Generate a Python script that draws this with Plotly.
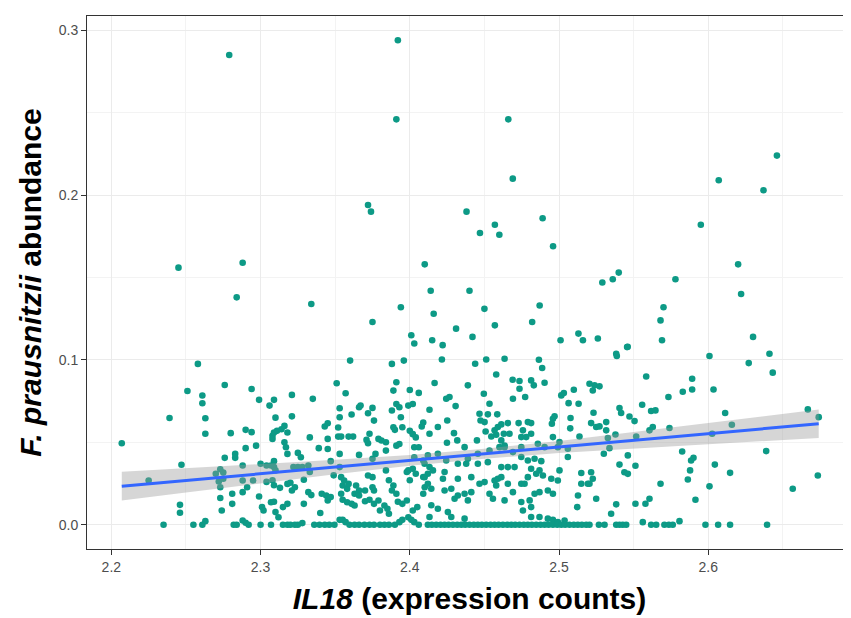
import plotly.graph_objects as go

# ---------------- data ----------------
# (IL18 expression, F. prausnitzii abundance) pairs, grouped by region of the plot
points_upper = [
    (2.279,0.285),(2.392,0.294),(2.391,0.246),(2.466,0.246),(2.646,0.224),(2.469,0.210),(2.607,0.209),
    (2.637,0.203),(2.372,0.194),(2.374,0.190),(2.438,0.190),(2.489,0.186),(2.457,0.182),(2.447,0.177),
    (2.460,0.176),(2.595,0.182),(2.496,0.169),(2.245,0.156),(2.288,0.159),(2.410,0.158),(2.620,0.158),
    (2.284,0.138),(2.334,0.134),(2.540,0.153),(2.536,0.149),(2.529,0.147),(2.578,0.149),(2.622,0.140),
    (2.414,0.142),(2.440,0.142),(2.394,0.132),(2.416,0.128),(2.450,0.131),(2.487,0.133),(2.570,0.132),
    (2.375,0.123),(2.457,0.121),(2.482,0.123),(2.568,0.124),(2.431,0.119),(2.401,0.115),(2.403,0.110),
    (2.415,0.112),(2.422,0.109),(2.442,0.114),(2.501,0.112),(2.513,0.116),(2.516,0.112),(2.526,0.113),
    (2.546,0.108),(2.569,0.112),(2.630,0.114),
]

points_left = [
    (2.207,0.0495),(2.225,0.0269),(2.235,0.0),(2.239,0.0648),(2.246,0.0121),(2.246,0.0073),(2.247,0.0364),
    (2.251,0.0812),(2.255,0.0),(2.258,0.0976),(2.261,0.0784),(2.261,0.0737),(2.263,0.0646),(2.263,0.0552),
    (2.261,0.0),(2.263,0.0022),(2.276,0.0848),(2.280,0.0556),(2.273,0.0337),(2.275,0.0317),(2.272,0.0263),
    (2.273,0.0228),(2.275,0.0279),(2.270,0.0310),(2.276,0.0406),(2.273,0.0162),(2.274,0.0087),(2.281,0.0188),
    (2.281,0.0127),(2.282,0.0),(2.284,0.0),(2.288,0.0026),(2.290,0.0012),(2.292,0.0),(2.283,0.0430),
    (2.283,0.0406),(2.288,0.0360),(2.290,0.0576),(2.294,0.0562),(2.290,0.0465),(2.294,0.0824),(2.288,0.0269),
    (2.295,0.0269),(2.288,0.0198),(2.291,0.0228),(2.297,0.0480),(2.299,0.0758),(2.299,0.0172),(2.300,0.0370),
    (2.304,0.0360),(2.307,0.0360),(2.300,0.0),(2.307,0.0),(2.301,0.0107),(2.302,0.0087),(2.306,0.0723),
    (2.309,0.0758),(2.308,0.0540),(2.309,0.0560),(2.311,0.0570),(2.314,0.0580),(2.316,0.0600),(2.318,0.0560),
    (2.308,0.0520),(2.310,0.0650),(2.316,0.0500),(2.317,0.0470),(2.318,0.0430),(2.309,0.0386),(2.309,0.0350),
    (2.310,0.0330),(2.304,0.0260),(2.309,0.0240),(2.308,0.0270),(2.313,0.0224),(2.318,0.0248),(2.320,0.0255),
    (2.307,0.0137),(2.309,0.0140),(2.310,0.0077),(2.312,0.0046),(2.315,0.0107),(2.318,0.0127),(2.321,0.0788),
    (2.321,0.0658),(2.315,0.0),(2.318,0.0),(2.320,0.0),(2.323,0.0),(2.325,0.0),(2.328,0.0010),(2.325,0.0436),
    (2.327,0.0410),(2.322,0.0350),(2.325,0.0350),(2.328,0.0350),(2.321,0.0208),(2.323,0.0228),(2.329,0.0273),
    (2.329,0.0127),(2.332,0.0360),(2.333,0.0320),(2.332,0.0198),(2.334,0.0180),(2.333,0.0530),
]

points_center_left = [
    (2.335,0.0764),(2.339,0.0465),(2.340,0.0071),(2.341,0.0188),(2.344,0.0178),(2.343,0.0596),(2.345,0.0616),
    (2.345,0.0521),(2.345,0.0460),(2.347,0.0386),(2.345,0.0147),(2.347,0.0168),
    (2.336,0.0),(2.3395,0.0),(2.343,0.0),(2.346,0.0),(2.3495,0.0),(2.353,0.003),(2.355,0.003),(2.357,0.0016),
    (2.3596,0.0),(2.363,0.0),(2.366,0.0),(2.3696,0.0),(2.373,0.0),(2.376,0.0),(2.380,0.0),(2.383,0.0),
    (2.386,0.0),(2.390,0.0),(2.393,0.0016),(2.395,0.003),(2.399,0.0045),(2.401,0.003),(2.403,0.0016),(2.406,0.0),
    (2.351,0.0859),(2.353,0.0707),(2.353,0.0652),(2.352,0.0590),(2.352,0.0535),(2.354,0.0535),(2.353,0.0430),
    (2.353,0.0350),(2.349,0.0300),(2.354,0.0289),(2.356,0.0269),(2.355,0.0238),(2.358,0.0218),(2.359,0.0248),
    (2.354,0.0188),(2.355,0.0152),(2.358,0.0137),(2.361,0.0127),(2.363,0.0117),(2.357,0.0798),(2.360,0.0996),
    (2.359,0.0535),(2.362,0.0535),(2.361,0.0669),(2.364,0.0238),(2.366,0.0208),(2.363,0.0188),(2.366,0.0178),
    (2.370,0.0208),(2.366,0.0424),(2.366,0.0713),(2.367,0.0723),(2.372,0.0677),(2.375,0.0709),(2.373,0.0552),
    (2.371,0.0515),(2.372,0.0495),(2.376,0.0632),(2.375,0.0400),(2.372,0.0299),(2.375,0.0289),(2.375,0.0228),
    (2.376,0.0208),(2.370,0.0143),(2.373,0.0152),(2.376,0.0127),(2.379,0.0147),(2.380,0.0087),(2.383,0.0117),
    (2.385,0.0097),(2.386,0.0067),(2.379,0.0521),(2.381,0.0511),(2.384,0.0501),(2.384,0.0450),(2.377,0.0430),
    (2.388,0.0976),(2.391,0.0865),(2.389,0.0814),(2.396,0.0996),(2.388,0.0693),(2.391,0.0733),(2.393,0.0713),
    (2.389,0.0592),(2.390,0.0576),(2.394,0.0652),(2.395,0.0592),(2.391,0.0480),(2.393,0.0490),(2.384,0.0330),
    (2.386,0.0270),(2.389,0.0238),(2.388,0.0208),(2.391,0.0188),(2.398,0.0320),(2.400,0.0270),(2.399,0.0330),
    (2.402,0.0340),(2.398,0.0147),(2.395,0.0127),(2.392,0.0140),(2.400,0.0818),(2.399,0.0723),(2.402,0.0733),
    (2.400,0.0570),(2.402,0.0550),(2.404,0.0530),(2.403,0.0470),(2.406,0.0470),(2.403,0.0410),(2.409,0.0390),
    (2.404,0.0310),(2.409,0.0290),(2.402,0.0087),(2.405,0.0107),(2.406,0.0800),(2.409,0.0620),(2.408,0.0596),
    (2.410,0.0228),(2.409,0.0188),
]

points_center_right = [
    (2.4215,0.1003),(2.4438,0.0977),(2.4512,0.1003),(2.4635,0.1007),(2.4865,0.1001),(2.4887,0.0951),
    (2.4579,0.0912),(2.4166,0.0860),(2.4389,0.0846),(2.4689,0.0880),(2.4735,0.0872),(2.4735,0.0825),
    (2.4813,0.0876),(2.4831,0.0846),(2.4903,0.0862),(2.4691,0.0765),(2.4773,0.0775),(2.4496,0.0795),
    (2.4244,0.0765),(2.4266,0.0775),(2.4307,0.0720),(2.4132,0.0698),(2.4534,0.0734),(2.4467,0.0674),
    (2.4523,0.0670),(2.4586,0.0670),(2.4474,0.0633),(2.4501,0.0623),(2.4251,0.0633),(2.4188,0.0593),
    (2.4132,0.0552),(2.4296,0.0556),(2.4249,0.0498),(2.4318,0.0512),(2.4367,0.0471),(2.4450,0.0512),
    (2.4508,0.0566),(2.4568,0.0573),(2.4590,0.0593),(2.4613,0.0609),(2.4657,0.0617),(2.4546,0.0536),
    (2.4579,0.0546),(2.4630,0.0552),(2.4613,0.0512),(2.4635,0.0481),(2.4668,0.0552),(2.4729,0.0617),
    (2.4758,0.0573),(2.4791,0.0623),(2.4813,0.0617),(2.4747,0.0532),(2.4780,0.0532),(2.4813,0.0552),
    (2.4959,0.0643),(2.4970,0.0658),(2.4952,0.0613),(2.5015,0.0785),(2.5032,0.0799),(2.5064,0.0738),
    (2.5099,0.0819),(2.5131,0.0734),(2.5077,0.0648),(2.5075,0.0585),(2.5137,0.0536),
    (2.4959,0.0532),(2.5003,0.0502),(2.4992,0.0471),(2.5059,0.0461),(2.4858,0.0492),(2.4903,0.0471),
    (2.4747,0.0471),(2.4691,0.0441),(2.4601,0.0471),(2.4635,0.0471),(2.4456,0.0431),(2.4534,0.0451),
    (2.4121,0.0421),(2.4188,0.0431),(2.4099,0.0370),(2.4132,0.0350),(2.4155,0.0330),(2.4121,0.0310),
    (2.4244,0.0390),(2.4322,0.0370),(2.4233,0.0320),(2.4222,0.0279),(2.4378,0.0370),(2.4389,0.0401),
    (2.4456,0.0370),(2.4523,0.0380),(2.4613,0.0350),(2.4657,0.0350),(2.4702,0.0350),(2.4747,0.0411),
    (2.4791,0.0390),(2.4836,0.0401),(2.4881,0.0386),(2.4813,0.0340),(2.4869,0.0330),(2.4791,0.0289),
    (2.4847,0.0310),(2.4892,0.0299),(2.5003,0.0330),(2.5059,0.0411),(2.5149,0.0314),(2.5149,0.0249),
    (2.5193,0.0249),(2.4948,0.0279),(2.4992,0.0269),(2.4925,0.0208),(2.4959,0.0188),(2.5127,0.0178),
    (2.5122,0.0107),(2.4099,0.0289),(2.4121,0.0249),(2.4144,0.0219),(2.4233,0.0208),(2.4278,0.0219),
    (2.4300,0.0158),(2.4322,0.0178),(2.4188,0.0097),(2.4144,0.0118),(2.4132,0.0047),(2.4367,0.0188),
    (2.4412,0.0198),(2.4389,0.0148),(2.4322,0.0279),(2.4412,0.0289),(2.4467,0.0249),(2.4501,0.0259),
    (2.4534,0.0188),(2.4557,0.0158),(2.4568,0.0269),(2.4590,0.0279),(2.4613,0.0289),(2.4579,0.0239),
    (2.4635,0.0148),(2.4691,0.0198),(2.4657,0.0249),(2.4747,0.0249),(2.4769,0.0249),(2.4747,0.0138),
    (2.4758,0.0087),(2.4803,0.0148),(2.4813,0.0107),(2.4836,0.0188),(2.4869,0.0198),(2.4813,0.0047),
    (2.4869,0.0047),(2.4925,0.0037),(2.4959,0.0030),(2.4992,0.0016),(2.5037,0.0026),(2.4255,0.0077),
    (2.4278,0.0047),(2.4367,0.0037),
    (2.4121,0.0),(2.4148,0.0),(2.4177,0.0),(2.4206,0.0),(2.4233,0.0),(2.4260,0.0),(2.4289,0.0),(2.4318,0.0),
    (2.4345,0.0),(2.4371,0.0),(2.4400,0.0),(2.4429,0.0),(2.4456,0.0),(2.4483,0.0),(2.4512,0.0),(2.4541,0.0),
    (2.4568,0.0),(2.4595,0.0),(2.4624,0.0),(2.4653,0.0),(2.4680,0.0),(2.4706,0.0),(2.4735,0.0),(2.4764,0.0),
    (2.4791,0.0),(2.4818,0.0),(2.4847,0.0),(2.4876,0.0),(2.4903,0.0),(2.4930,0.0),(2.4959,0.0),(2.4988,0.0),
    (2.5015,0.0),(2.5041,0.0),(2.5070,0.0),(2.5099,0.0),(2.5126,0.0),(2.5153,0.0),(2.5182,0.0),
]

points_right = [
    (2.5383,0.1038),(2.5387,0.1024),(2.5456,0.1078),(2.6008,0.1024),(2.6410,0.1038),(2.6271,0.0981),
    (2.6432,0.0923),(2.5584,0.0900),(2.5892,0.0886),(2.5892,0.0821),(2.6035,0.0821),(2.5829,0.0807),
    (2.5733,0.0775),(2.5204,0.0856),(2.5238,0.0846),(2.5271,0.0840),(2.5226,0.0815),(2.5557,0.0728),
    (2.5405,0.0708),(2.5416,0.0678),(2.5617,0.0690),(2.5646,0.0694),(2.5231,0.0680),(2.5472,0.0657),
    (2.5506,0.0629),(2.6113,0.0678),(2.6667,0.0700),(2.6740,0.0653),(2.6158,0.0607),(2.5740,0.0587),
    (2.5628,0.0593),(2.5606,0.0573),(2.5215,0.0617),(2.5249,0.0593),(2.5271,0.0597),(2.5316,0.0623),
    (2.5316,0.0573),(2.5378,0.0548),(2.5517,0.0536),(2.6026,0.0552),(2.5327,0.0526),(2.5338,0.0465),
    (2.5300,0.0431),(2.5825,0.0445),(2.5461,0.0421),(2.5901,0.0407),(2.5885,0.0390),(2.6388,0.0447),
    (2.5405,0.0365),(2.5512,0.0358),(2.6044,0.0365),(2.5878,0.0330),(2.5438,0.0319),(2.5461,0.0309),
    (2.6146,0.0315),(2.6734,0.0299),(2.5215,0.0319),(2.5226,0.0279),(2.5204,0.0249),(2.5863,0.0275),
    (2.5680,0.0249),(2.6008,0.0233),(2.6566,0.0219),(2.5249,0.0158),(2.5606,0.0158),(2.5579,0.0128),
    (2.5512,0.0128),(2.5383,0.0124),(2.5914,0.0152),(2.5349,0.0067),(2.5204,0.0),(2.5267,0.0),(2.5305,0.0),
    (2.5383,0.0),(2.5405,0.0),(2.5427,0.0),(2.5450,0.0),(2.5561,0.0016),(2.5617,0.0),(2.5651,0.0),
    (2.5706,0.0),(2.5736,0.0),(2.5762,0.0),(2.5807,0.0022),(2.5981,0.0),(2.6066,0.0),(2.6146,0.0),(2.6394,0.0),
]

# linear fit and its 95% confidence band at several x positions
fit_x = [2.207, 2.25, 2.30, 2.35, 2.40, 2.45, 2.50, 2.55, 2.60, 2.674]
fit_y = [0.0234, 0.0269, 0.0310, 0.0350, 0.0391, 0.0431, 0.0472, 0.0513, 0.0553, 0.0613]
ci_low = [0.0147, 0.0196, 0.0253, 0.0307, 0.0358, 0.0401, 0.0435, 0.0464, 0.0489, 0.0526]
ci_high = [0.0321, 0.0342, 0.0368, 0.0394, 0.0424, 0.0461, 0.0509, 0.0562, 0.0617, 0.0700]

x_ticks = [2.2, 2.3, 2.4, 2.5, 2.6]
x_tick_labels = ["2.2", "2.3", "2.4", "2.5", "2.6"]
y_ticks = [0.0, 0.1, 0.2, 0.3]
y_tick_labels = ["0.0", "0.1", "0.2", "0.3"]

# ---------------- figure ----------------
all_points = points_upper + points_left + points_center_left + points_center_right + points_right
il18 = [p[0] for p in all_points]
fprau = [p[1] for p in all_points]

fig = go.Figure()
fig.add_trace(go.Scatter(
    x=il18, y=fprau, mode="markers",
    marker=dict(size=6.6, color="#0d9a86", line=dict(width=0)),
    hoverinfo="skip", showlegend=False,
))
fig.add_trace(go.Scatter(
    x=fit_x + fit_x[::-1], y=ci_high + ci_low[::-1],
    fill="toself", fillcolor="rgba(153,153,153,0.4)",
    line=dict(width=0), mode="lines", hoverinfo="skip", showlegend=False,
))
fig.add_trace(go.Scatter(
    x=fit_x, y=fit_y, mode="lines",
    line=dict(color="#3366FF", width=3), hoverinfo="skip", showlegend=False,
))

font_family = "Liberation Sans, Arial, Helvetica, sans-serif"
axis_common = dict(
    showline=True, mirror=True, linecolor="#333333", linewidth=1,
    ticks="outside", ticklen=5, tickwidth=1, tickcolor="#333333",
    tickfont=dict(family=font_family, size=14, color="#4D4D4D"),
    showgrid=True, gridcolor="#EBEBEB", gridwidth=1.2,
    zeroline=False,
)

fig.update_layout(
    width=851, height=618,
    margin=dict(l=79, r=7, t=8, b=77),
    paper_bgcolor="white", plot_bgcolor="white",
    font=dict(family=font_family),
    xaxis=dict(
        range=[2.1837, 2.6963], tickmode="array", tickvals=x_ticks, ticktext=x_tick_labels,
        minor=dict(tickmode="array", tickvals=[2.25, 2.35, 2.45, 2.55, 2.65], showgrid=True,
                   gridcolor="#F3F3F3", gridwidth=0.8, ticks=""),
        title=dict(text="<b><i>IL18</i> (expression counts)</b>",
                   font=dict(family=font_family, size=30, color="black"), standoff=14),
        **axis_common,
    ),
    yaxis=dict(
        range=[-0.0147, 0.3087], tickmode="array", tickvals=y_ticks, ticktext=y_tick_labels,
        minor=dict(tickmode="array", tickvals=[0.05, 0.15, 0.25], showgrid=True,
                   gridcolor="#F3F3F3", gridwidth=0.8, ticks=""),
        title=dict(text="<b><i>F. prausnitzii</i> abundance</b>",
                   font=dict(family=font_family, size=30, color="black"), standoff=8),
        **axis_common,
    ),
)

fig.write_html("out.html")
